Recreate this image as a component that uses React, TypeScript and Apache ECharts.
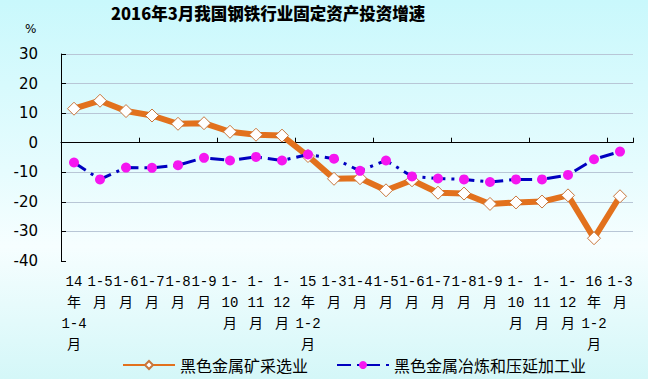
import React, { useEffect, useRef } from "react";
import * as echarts from "echarts";

const categories = ["14年1-4月", "1-5月", "1-6月", "1-7月", "1-8月", "1-9月", "1-10月", "1-11月", "1-12月", "15年1-2月", "1-3月", "1-4月", "1-5月", "1-6月", "1-7月", "1-8月", "1-9月", "1-10月", "1-11月", "1-12月", "16年1-2月", "1-3月"];
const miningName = "黑色金属矿采选业";
const miningValues = [11.5, 14.2, 10.7, 9.2, 6.4, 6.6, 3.7, 2.7, 2.4, -4.5, -12.2, -12.0, -16.1, -12.7, -16.9, -17.2, -20.7, -20.2, -19.9, -17.8, -32.3, -18.1];
const smeltingName = "黑色金属冶炼和压延加工业";
const smeltingValues = [-6.7, -12.4, -8.4, -8.5, -7.6, -5.1, -6.0, -4.8, -6.0, -4.0, -5.4, -9.5, -6.0, -11.4, -12.1, -12.4, -13.3, -12.4, -12.4, -10.9, -5.6, -3.0];
const yMin = -40;
const yMax = 30;
const yStep = 10;
const titleText = "2016年3月我国钢铁行业固定资产投资增速";
const unitText = "%";

function formatCategory(c: string): string {
  const m = c.match(/^(?:(\d+)年)?1-(\d+)月$/);
  if (!m) return c;
  if (m[1]) return m[1] + "\n年\n1-" + m[2] + "\n月";
  if (m[2].length > 1) return "1-\n" + m[2] + "\n月";
  return "1-" + m[2] + "\n月";
}

export default function App() {
  const ref = useRef<HTMLDivElement>(null);
  useEffect(() => {
    if (!ref.current) return;
    const chart = echarts.init(ref.current, null, { renderer: "svg" });
    const cjk = "'Noto Sans CJK SC', sans-serif";
    const mono = "'Liberation Mono', 'Noto Sans CJK SC', monospace";
    chart.setOption({
      animation: false,
      backgroundColor: "transparent",
      title: {
        text: titleText,
        left: 106,
        top: 0,
        textStyle: { fontSize: 16.5, fontWeight: 900, color: "#000", fontFamily: cjk },
      },
      graphic: [
        { type: "text", left: 25, top: 23, style: { text: unitText, fontSize: 12, fill: "#000", fontFamily: "'DejaVu Sans', sans-serif" } },
      ],
      legend: {
        data: [miningName, smeltingName],
        left: 117,
        top: 352,
        itemWidth: 52,
        itemHeight: 10,
        itemGap: 28,
        textStyle: { fontSize: 16, color: "#000", fontFamily: cjk },
      },
      grid: { left: 61, right: 15, top: 54, bottom: 118, containLabel: false },
      xAxis: [
        {
          type: "category",
          data: categories,
          boundaryGap: true,
          position: "bottom",
          axisLine: { show: false, onZero: false },
          axisTick: { show: false },
          axisLabel: {
            interval: 0,
            margin: 10,
            fontSize: 14,
            lineHeight: 21,
            color: "#000",
            fontFamily: mono,
            formatter: (v: string) => formatCategory(v),
          },
          splitLine: { show: false },
        },
        {
          type: "category",
          data: categories,
          boundaryGap: true,
          position: "bottom",
          axisLine: { show: true, onZero: true, lineStyle: { color: "#000", width: 1 } },
          axisTick: { show: true, inside: true, length: 5, lineStyle: { color: "#000" } },
          axisLabel: { show: false },
          splitLine: { show: false },
        },
      ],
      yAxis: {
        type: "value",
        min: yMin,
        max: yMax,
        interval: yStep,
        axisLine: { show: true, lineStyle: { color: "#000", width: 1 } },
        axisTick: { show: true, inside: true, length: 5, lineStyle: { color: "#000" } },
        axisLabel: { margin: 23, fontSize: 15, color: "#000", fontFamily: "'DejaVu Sans', sans-serif" },
        splitLine: { show: true, showMinLine: false, lineStyle: { color: "#B8C6D6", width: 1 } },
      },
      series: [
        {
          name: miningName,
          type: "line",
          data: miningValues,
          xAxisIndex: 0,
          z: 3,
          symbol: "diamond",
          symbolSize: 13,
          color: "#E2711D",
          lineStyle: { color: "#E2711D", width: 6 },
          itemStyle: { color: "#FFFFFF", borderColor: "#C8763C", borderWidth: 1 },
        },
        {
          name: smeltingName,
          type: "line",
          data: smeltingValues,
          xAxisIndex: 0,
          z: 4,
          symbol: "circle",
          symbolSize: 10,
          color: "#FF00FF",
          lineStyle: { color: "#0000C0", width: 3, type: [14, 6, 3, 6] },
          itemStyle: { color: "#F516F0", borderWidth: 0 },
        },
      ],
    });
    return () => chart.dispose();
  }, []);
  return (
    <div
      style={{
        position: "absolute",
        left: 0,
        top: 0,
        width: 648,
        height: 379,
        background: "linear-gradient(to bottom, #C9F8FC 0%, #E6FCFE 45%, #F6FEFF 65%, #D4F7F8 100%)",
      }}
    >
      <div ref={ref} style={{ width: 648, height: 379 }} />
    </div>
  );
}
